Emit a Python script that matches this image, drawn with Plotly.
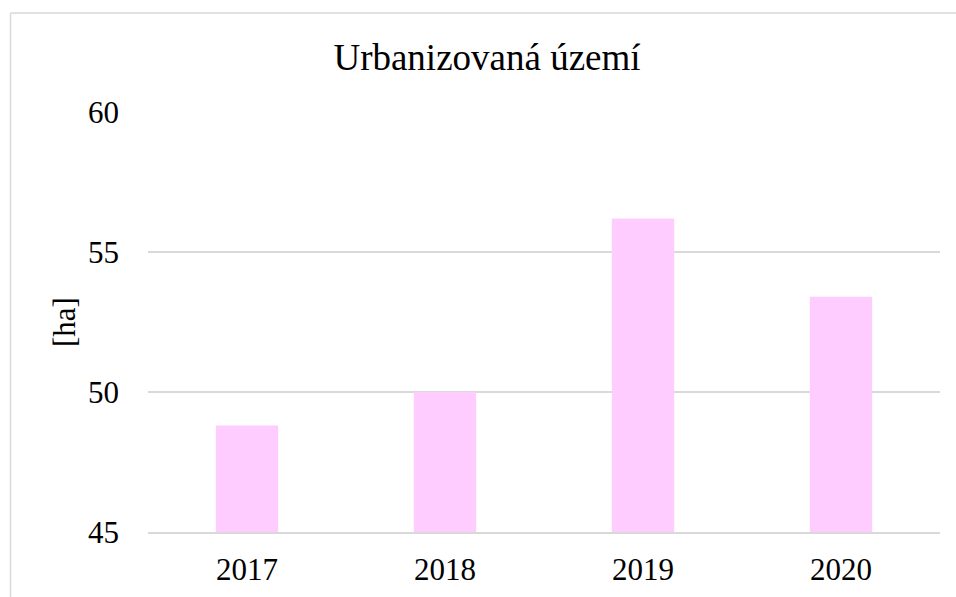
import plotly.graph_objects as go

years = ["2017", "2018", "2019", "2020"]
values = [48.8, 50.0, 56.2, 53.4]
y_ticks = [45, 50, 55, 60]

W, H = 956, 597
L, R, T, B = 148, 16, 112, 65
pw, ph = W - L - R, H - T - B

FONT = "Liberation Serif"
GRID = "#D9D9D9"

fig = go.Figure(go.Bar(x=years, y=values, marker=dict(color="#FFCCFF", line=dict(width=0)),
                       width=0.315))

fig.update_layout(
    width=W, height=H,
    margin=dict(l=L, r=R, t=T, b=B, autoexpand=False),
    paper_bgcolor="white", plot_bgcolor="white",
    showlegend=False,
    font=dict(family=FONT, color="#000000"),
    title=dict(text="Urbanizovaná území", font=dict(family=FONT, size=37, color="#000000"),
               xref="container", x=487 / W, xanchor="center",
               yref="container", y=1 - 57 / H, yanchor="middle"),
    xaxis=dict(type="category", showgrid=False, showline=True, linecolor=GRID, linewidth=1.5,
               ticks="", tickfont=dict(size=31, family=FONT), ticklabelstandoff=9,
               fixedrange=True),
    yaxis=dict(range=[45, 60], tickvals=y_ticks, showgrid=True, gridcolor=GRID, gridwidth=1.5,
               zeroline=False, showline=False, ticks="", tickfont=dict(size=31, family=FONT),
               ticklabelstandoff=28, fixedrange=True),
)

fig.add_annotation(text="[ha]", textangle=-90, xref="paper", yref="paper",
                   x=(64 - L) / pw, y=0.5, xanchor="center", yanchor="middle",
                   showarrow=False, font=dict(family=FONT, size=31, color="#000000"))

# chart area frame: only the left and top edges are inside the picture
fx0 = (10.5 - L) / pw
fy1 = 1 + (T - 13) / ph
fig.add_shape(type="line", xref="paper", yref="paper", x0=fx0, x1=fx0, y0=-0.5, y1=fy1,
              line=dict(color=GRID, width=1.5), layer="below")
fig.add_shape(type="line", xref="paper", yref="paper", x0=fx0, x1=1.5, y0=fy1, y1=fy1,
              line=dict(color=GRID, width=1.5), layer="below")

fig.write_html("out.html", config={"displayModeBar": False},
               post_script="document.body.style.margin='0';document.body.style.overflow='hidden';")
